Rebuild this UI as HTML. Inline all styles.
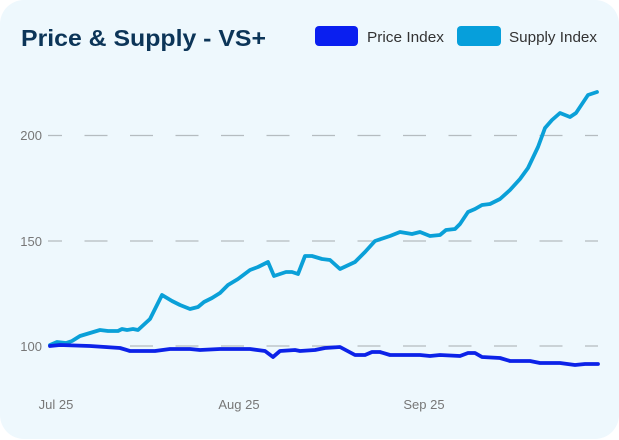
<!DOCTYPE html>
<html><head><style>
html,body{margin:0;padding:0;background:#fff;}
.card{position:absolute;left:0;top:0;width:619px;height:439px;background:#eef8fd;border-radius:24px;}
text{font-family:"Liberation Sans",sans-serif;}
</style></head><body>
<div class="card"></div>
<svg width="619" height="440" style="position:absolute;left:0;top:0">
<text x="21" y="46" font-size="23" font-weight="bold" fill="#0c3558" textLength="245" lengthAdjust="spacingAndGlyphs">Price &amp; Supply - VS+</text>
<rect x="315" y="26" width="43" height="20" rx="4" fill="#0a1ff0"/>
<text x="367" y="42" font-size="15" fill="#333" textLength="77" lengthAdjust="spacingAndGlyphs">Price Index</text>
<rect x="457" y="26" width="44" height="20" rx="4" fill="#069fdb"/>
<text x="509" y="42" font-size="15" fill="#333" textLength="88" lengthAdjust="spacingAndGlyphs">Supply Index</text>
<g stroke="#b5bcc0" stroke-width="1.3" stroke-dasharray="23 22.5" stroke-dashoffset="9">
<line x1="48" y1="135.5" x2="598" y2="135.5"/>
<line x1="48" y1="241" x2="598" y2="241"/>
<line x1="48" y1="346" x2="598" y2="346"/>
</g>
<g font-size="13" fill="#777" text-anchor="end">
<text x="42" y="140">200</text>
<text x="42" y="246">150</text>
<text x="42" y="351">100</text>
</g>
<g font-size="13" fill="#777" text-anchor="middle">
<text x="56" y="409">Jul 25</text>
<text x="239" y="409">Aug 25</text>
<text x="424" y="409">Sep 25</text>
</g>
<polyline fill="none" stroke="#0aa0d8" stroke-width="3.8" stroke-linejoin="round" stroke-linecap="round" points="50,345 57,342 66,343 72,341 80,336 90,333 100,330 108,331 118,331 122,329 127,330 133,329 138,330 150,319 162,295 172,301 180,305 190,309 198,307 204,302 212,298 220,293 228,285 238,279 250,270 258,267 268,262 274,276 286,272 292,272 298,274 305,256 312,256 322,259 330,260 340,269 355,262 365,252 375,241 390,236 400,232 412,234 420,232 430,236 440,235 446,230 455,229 460,224 468,212 475,209 482,205 490,204 500,199 510,190 520,179 528,168 538,147 545,128 552,120 560,113 570,117 576,113 582,104 588,95 597,92"/>
<polyline fill="none" stroke="#0c22e8" stroke-width="3.8" stroke-linejoin="round" stroke-linecap="round" points="50,346 60,345 90,346 120,348 130,351 155,351 170,349 190,349 200,350 220,349 250,349 265,351 273,357 280,351 295,350 300,351 315,350 325,348 340,347 355,355 365,355 372,352 380,352 390,355 420,355 430,356 440,355 460,356 468,353 475,353 482,357 500,358 510,361 530,361 540,363 560,363 575,365 585,364 598,364"/>
</svg>
</body></html>
